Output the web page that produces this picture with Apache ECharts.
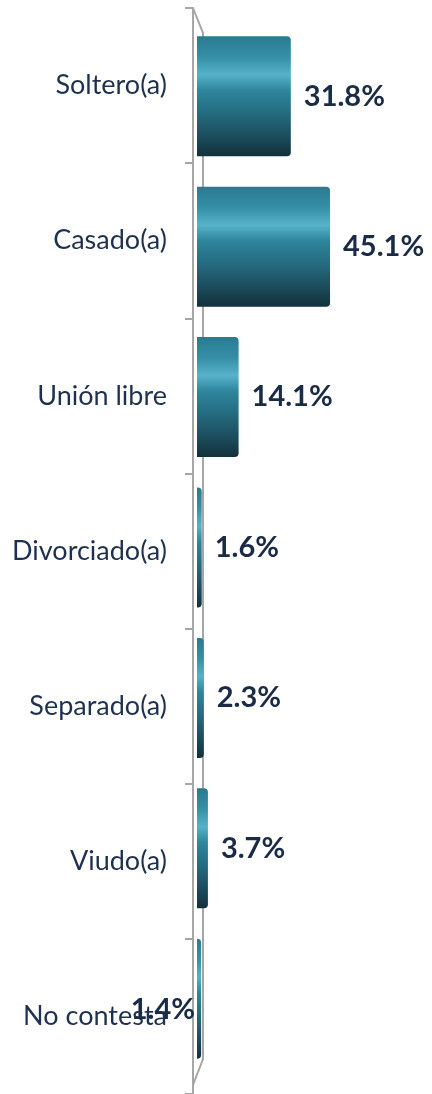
<!DOCTYPE html>
<html>
<head>
<meta charset="utf-8">
<script src="https://cdn.jsdelivr.net/npm/echarts@6/dist/echarts.min.js"></script>
<style>
  html, body { margin: 0; padding: 0; background: #fff; }
  #main { width: 432px; height: 1094px; }
</style>
</head>
<body>
<div id="main"></div>
<script>
// estado civil
var categories = ['Soltero(a)', 'Casado(a)', 'Unión libre', 'Divorciado(a)', 'Separado(a)', 'Viudo(a)', 'No contesta'];
var percents = [31.8, 45.1, 14.1, 1.6, 2.3, 3.7, 1.4];

var chart = echarts.init(document.getElementById('main'));

// degradado tipo cilindro
var barColor = new echarts.graphic.LinearGradient(0, 0, 0, 1, [
  { offset: 0, color: '#2A7A90' },
  { offset: 0.18, color: '#3690A8' },
  { offset: 0.32, color: '#56B2CA' },
  { offset: 0.45, color: '#2E869D' },
  { offset: 0.65, color: '#246A7F' },
  { offset: 0.85, color: '#1B4A59' },
  { offset: 1, color: '#12303B' }
]);

var last = percents.length - 1;
var barData = percents.map(function (v, i) {
  if (i === last) {
    // la etiqueta de "No contesta" queda a la izquierda, como en el original
    return { value: v, label: { position: 'left', distance: 2, offset: [0, 11] } };
  }
  return v;
});

var option = {
  animation: false,
  grid: [
    { left: 193, top: 8, width: 200, height: 1088 },
    { left: 197, top: 21, width: 177, height: 1053 }
  ],
  xAxis: [
    { gridIndex: 0, type: 'value', show: false, min: 0, max: 60 },
    { gridIndex: 1, type: 'value', show: false, min: 0, max: 60 }
  ],
  yAxis: [
    {
      gridIndex: 0,
      type: 'category',
      inverse: true,
      data: categories,
      axisLine: { show: true, lineStyle: { color: '#A6A6A6', width: 2 } },
      axisTick: { show: true, length: 8, lineStyle: { color: '#A6A6A6', width: 2 } },
      axisLabel: {
        margin: 26,
        fontFamily: 'Lato',
        fontSize: 27,
        color: '#1F3150'
      },
      splitLine: { show: false }
    },
    {
      gridIndex: 1,
      type: 'category',
      inverse: true,
      data: categories,
      show: false
    }
  ],
  graphic: [
    {
      type: 'polyline',
      z: 1,
      shape: { points: [[193, 8], [203, 33], [203, 1059], [193, 1085]] },
      style: { stroke: '#A6A6A6', lineWidth: 2, fill: null }
    }
  ],
  series: [
    {
      type: 'bar',
      xAxisIndex: 1,
      yAxisIndex: 1,
      z: 3,
      barWidth: 120,
      data: barData,
      itemStyle: {
        color: barColor,
        borderRadius: [0, 4, 4, 0]
      },
      label: {
        show: true,
        position: 'right',
        distance: 13,
        formatter: function (p) { return p.value.toFixed(1) + '%'; },
        fontFamily: 'Lato',
        fontWeight: 'bold',
        fontSize: 29,
        color: '#1A2B48'
      }
    }
  ]
};

chart.setOption(option);
</script>
</body>
</html>
